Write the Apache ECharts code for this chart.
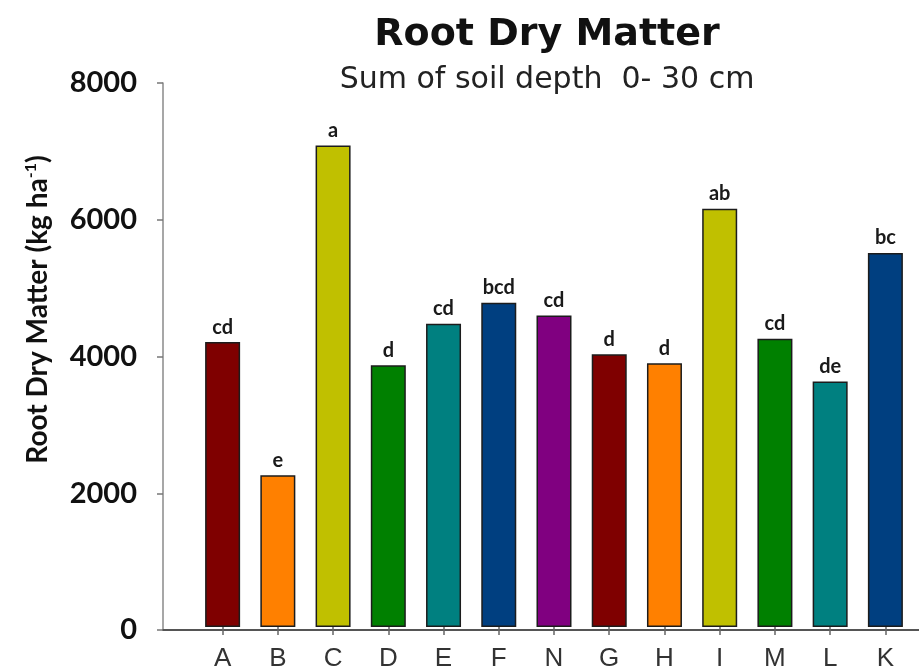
<!DOCTYPE html>
<html>
<head>
<meta charset="utf-8">
<script src="https://cdn.jsdelivr.net/npm/echarts@6/dist/echarts.min.js"></script>
<style>
  html, body { margin: 0; padding: 0; background: #fff; }
  #chart { width: 919px; height: 672px; }
</style>
</head>
<body>
<div id="chart"></div>
<script>
// Treatments along the x axis
const treatments = ['A', 'B', 'C', 'D', 'E', 'F', 'N', 'G', 'H', 'I', 'M', 'L', 'K'];
// Root dry matter, summed over 0-30 cm soil depth (kg ha-1)
const rootDryMatter = [4190, 2230, 7080, 3850, 4460, 4770, 4580, 4010, 3880, 6150, 4240, 3610, 5500];
// Significance letters shown above each bar
const groupLetters = ['cd', 'e', 'a', 'd', 'cd', 'bcd', 'cd', 'd', 'd', 'ab', 'cd', 'de', 'bc'];
// Fill colour per treatment
const barColors = ['#7f0000', '#ff8000', '#c0c000', '#008000', '#008080', '#003f80', '#800080',
                   '#7f0000', '#ff8000', '#c0c000', '#008000', '#008080', '#003f80'];
// Y axis ticks
const yTicks = [0, 2000, 4000, 6000, 8000];

const chart = echarts.init(document.getElementById('chart'), null, { renderer: 'canvas' });

const plotTop = 83;
const plotBottom = 42;

const option = {
  backgroundColor: '#ffffff',
  animation: false,
  title: [
    {
      text: 'Root Dry Matter',
      left: 542,
      top: 11,
      textAlign: 'center',
      textStyle: { fontFamily: 'DejaVu Sans', fontWeight: 'bold', fontSize: 38, color: '#111' }
    },
    {
      text: 'Sum of soil depth  0- 30 cm',
      left: 542,
      top: 60,
      textAlign: 'center',
      textStyle: { fontFamily: 'DejaVu Sans', fontWeight: 'normal', fontSize: 30, color: '#222' }
    }
  ],
  grid: [
    // bars
    { left: 195, right: 6, top: plotTop, bottom: plotBottom, containLabel: false },
    // frame: y axis and the full-width base line
    { left: 163, right: 0, top: plotTop, bottom: plotBottom, containLabel: false }
  ],
  xAxis: [
    {
      type: 'category',
      gridIndex: 0,
      data: treatments,
      boundaryGap: true,
      axisLine: { show: false },
      axisTick: { show: true, alignWithLabel: true, length: 8, lineStyle: { color: '#666', width: 1.5 } },
      axisLabel: {
        margin: 19,
        fontFamily: 'Liberation Sans',
        fontSize: 26,
        color: '#333'
      },
      splitLine: { show: false }
    },
    {
      type: 'value',
      gridIndex: 1,
      min: 0,
      max: 1,
      axisLine: { show: true, lineStyle: { color: '#555', width: 2 } },
      axisTick: { show: false },
      axisLabel: { show: false },
      splitLine: { show: false }
    }
  ],
  yAxis: [
    {
      type: 'value',
      gridIndex: 0,
      min: yTicks[0],
      max: yTicks[yTicks.length - 1],
      interval: 2000,
      show: false
    },
    {
      type: 'value',
      gridIndex: 1,
      min: yTicks[0],
      max: yTicks[yTicks.length - 1],
      interval: 2000,
      axisLine: { show: true, lineStyle: { color: '#8a8a8a', width: 1.5 } },
      axisTick: { show: true, inside: false, length: 6, lineStyle: { color: '#777', width: 1.5 } },
      axisLabel: {
        margin: 26,
        fontFamily: 'Lato',
        fontWeight: 'bold',
        fontSize: 29,
        color: '#111',
        formatter: (v) => String(v)
      },
      splitLine: { show: false },
      name: 'Root Dry Matter (kg ha{sup|-1})',
      nameLocation: 'middle',
      nameRotate: 90,
      nameGap: 110,
      nameTextStyle: {
        fontFamily: 'Lato',
        fontWeight: 'bold',
        fontSize: 28,
        color: '#111',
        padding: [0, 0, 0, 94],
        rich: {
          sup: {
            fontFamily: 'Lato',
            fontWeight: 'bold',
            fontSize: 16,
            color: '#111',
            verticalAlign: 'top',
            padding: [0, 0, 14, 0]
          }
        }
      }
    }
  ],
  series: [
    {
      type: 'bar',
      xAxisIndex: 0,
      yAxisIndex: 0,
      data: rootDryMatter.map((v, i) => ({ value: v, itemStyle: { color: barColors[i] } })),
      barWidth: 35,
      itemStyle: { borderColor: '#1c1c1c', borderWidth: 1.5 },
      label: {
        show: true,
        position: 'top',
        distance: 5,
        fontFamily: 'Lato',
        fontWeight: 'bold',
        fontSize: 20,
        color: '#1a1a1a',
        formatter: (p) => groupLetters[p.dataIndex]
      }
    }
  ]
};

chart.setOption(option);
</script>
</body>
</html>
